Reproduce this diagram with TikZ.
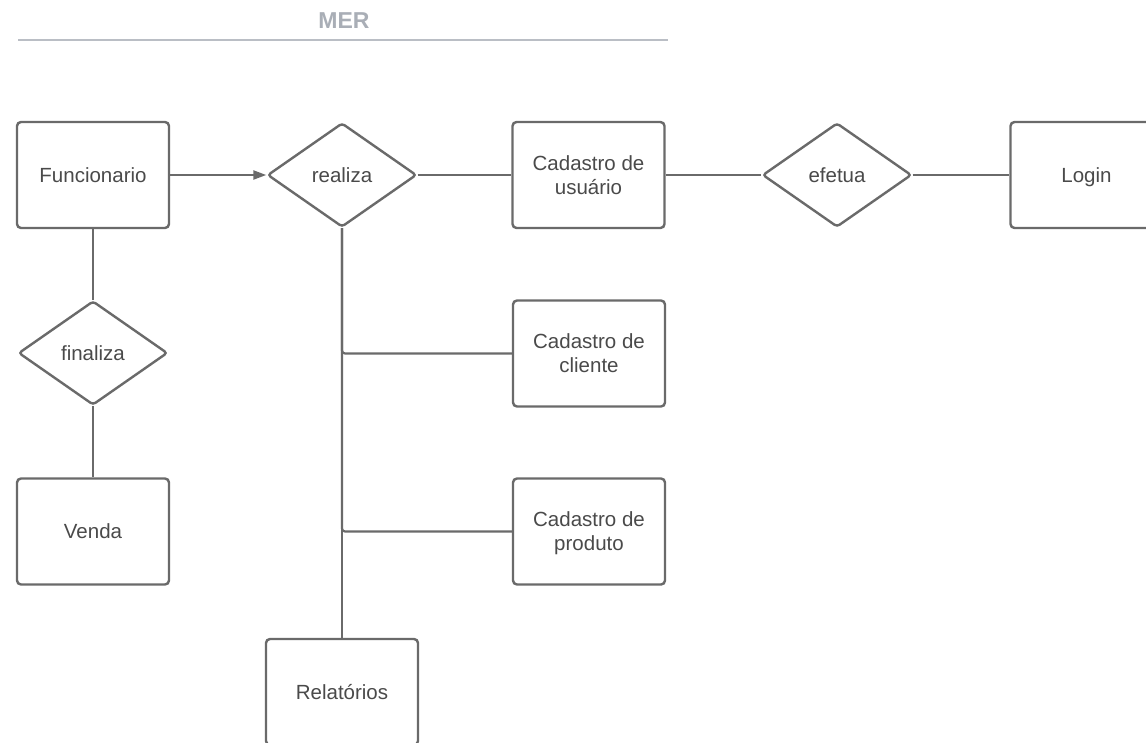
\documentclass[tikz,border=0pt]{standalone}
\usepackage{fontspec}
\setmainfont{Liberation Sans}
\usetikzlibrary{shapes.geometric,arrows.meta}
\definecolor{ln}{HTML}{6A6A6A}
\definecolor{tx}{HTML}{4A4A4A}
\definecolor{ttl}{HTML}{A9AEB6}
\tikzset{
  ent/.style={draw=ln, line width=2.4pt, rounded corners=4pt, minimum width=152pt, minimum height=106pt, text=tx, font=\fontsize{20.5}{24}\selectfont, align=center, inner sep=0pt, fill=white, text depth=0pt},
  rel/.style={draw=ln, line width=2.4pt, rounded corners=3pt, shape=diamond, minimum width=149pt, minimum height=104pt, text=tx, font=\fontsize{20.5}{24}\selectfont, inner sep=0pt, fill=white},
  con/.style={draw=ln, line width=2.2pt},
}
\begin{document}
\begin{tikzpicture}[x=1pt,y=-1pt]
\useasboundingbox (0,0) rectangle (1146,742);
\clip (0,0) rectangle (1146,742);
\fill[white] (0,0) rectangle (1146,742);
% title
\node[text=ttl, font=\fontsize{23}{26}\selectfont\bfseries] (title) at (344,21) {MER};
\coordinate (tl) at (18,40);
\coordinate (tr) at (668,40);
\draw[draw=ttl!80, line width=2pt] (tl) -- (tr);
% nodes
\node[ent] (func) at (93,175) {Funcionario};
\node[rel] (realiza) at (342,175) {realiza};
\node[ent] (cadu) at (588.5,175) {Cadastro de\\usuário};
\node[rel] (efetua) at (837,175) {efetua};
\node[ent] (login) at (1086.5,175) {Login};
\node[rel] (finaliza) at (93,353) {finaliza};
\node[ent] (venda) at (93,531.5) {Venda};
\node[ent] (cadc) at (589,353.5) {Cadastro de\\cliente};
\node[ent] (cadp) at (589,531.5) {Cadastro de\\produto};
\node[ent] (rel) at (342,692) {Relatórios};
% connectors
\draw[con, -{Triangle[length=13pt,width=9pt]}] (func.east) -- (realiza.west);
\draw[con] (realiza.east) -- (cadu.west);
\draw[con] (cadu.east) -- (efetua.west);
\draw[con] (efetua.east) -- (login.west);
\draw[con] (func.south) -- (finaliza.north);
\draw[con] (finaliza.south) -- (venda.north);
\draw[con] (realiza.south) -- (rel.north);
\draw[con, rounded corners=3pt] (realiza.south) |- (cadc.west);
\draw[con, rounded corners=3pt] (realiza.south) |- (cadp.west);
\end{tikzpicture}
\end{document}
